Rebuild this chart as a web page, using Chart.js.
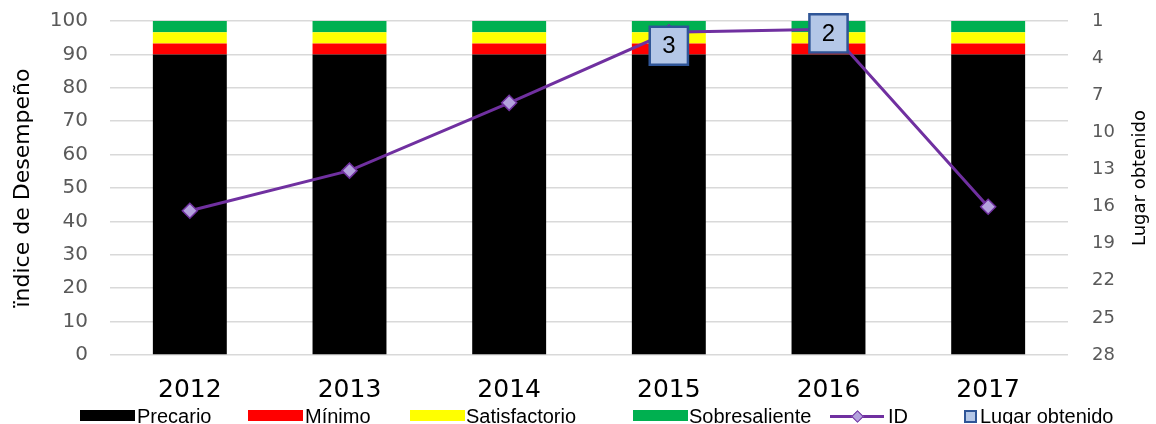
<!DOCTYPE html>
<html><head><meta charset="utf-8">
<script src="https://cdn.jsdelivr.net/npm/chart.js@4/dist/chart.umd.min.js"></script>
<style>
html,body{margin:0;padding:0;background:#fff;}
#wrap{position:relative;width:1156px;height:424px;overflow:hidden;}
canvas{position:absolute;left:0;top:0;}
.li{position:absolute;top:405px;height:22px;display:flex;align-items:center;font-family:"Liberation Sans Narrow","Liberation Sans";font-size:20px;color:#000;white-space:nowrap;}
</style></head><body>
<div id="wrap"><canvas id="c" width="1156" height="424"></canvas><div id="legend"></div></div>
<script>
// ---- data ----
const years = ['2012','2013','2014','2015','2016','2017'];
const precario      = [90, 90, 90, 90, 90, 90];
const minimo        = [3.3, 3.3, 3.3, 3.3, 3.3, 3.3];
const satisfactorio = [3.3, 3.3, 3.3, 3.3, 3.3, 3.3];
const sobresaliente = [3.4, 3.4, 3.4, 3.4, 3.4, 3.4];
const indiceDesempeno = [43.2, 55.2, 75.5, 96.6, 97.5, 44.4];
const lugarObtenido   = [null, null, null, 3, 2, null];
const leftAxis  = {min: 0, max: 100, step: 10};
const rightAxis = {min: 1, max: 28, step: 3};
const leftTitle = 'ïndice de Desempeño';
const rightTitle = 'Lugar obtenido';

const FONT = 'DejaVu Sans';

const overlay = {
  id: 'overlay',
  afterDatasetsDraw(chart) {
    const ctx = chart.ctx;
    const meta = chart.getDatasetMeta(5);
    ctx.save();
    ctx.fillStyle = '#000';
    ctx.font = '24px "Liberation Sans"';
    ctx.textAlign = 'center';
    ctx.textBaseline = 'middle';
    meta.data.forEach((pt, i) => {
      if (lugarObtenido[i] == null) return;
      ctx.fillText(String(lugarObtenido[i]), pt.x, pt.y + 1);
    });
    ctx.restore();
  },
  afterDraw(chart) {
    const ctx = chart.ctx;
    ctx.save();
    ctx.fillStyle = '#000';
    ctx.textAlign = 'center';
    ctx.textBaseline = 'middle';
    ctx.font = '22px "' + FONT + '"';
    ctx.translate(23, 188);
    ctx.rotate(-Math.PI / 2);
    ctx.fillText(leftTitle, 0, 0);
    ctx.restore();
    ctx.save();
    ctx.fillStyle = '#000';
    ctx.textAlign = 'center';
    ctx.textBaseline = 'middle';
    ctx.font = '18px "' + FONT + '"';
    ctx.translate(1140, 178);
    ctx.rotate(-Math.PI / 2);
    ctx.fillText(rightTitle, 0, 0);
    ctx.restore();
  }
};

const barCommon = {type: 'bar', stack: 'niveles', order: 3, barPercentage: 0.463, categoryPercentage: 1, borderWidth: 0, yAxisID: 'y'};

function noPad(s) { s.paddingTop = 0; s.paddingBottom = 0; s.paddingLeft = 0; s.paddingRight = 0; }

const chart = new Chart(document.getElementById('c'), {
  data: {
    labels: years,
    datasets: [
      Object.assign({label: 'Precario', data: precario, backgroundColor: '#000000'}, barCommon),
      Object.assign({label: 'Mínimo', data: minimo, backgroundColor: '#ff0000'}, barCommon),
      Object.assign({label: 'Satisfactorio', data: satisfactorio, backgroundColor: '#ffff00'}, barCommon),
      Object.assign({label: 'Sobresaliente', data: sobresaliente, backgroundColor: '#00b050'}, barCommon),
      {type: 'line', label: 'ID', data: indiceDesempeno, stack: 'id', order: 2, yAxisID: 'y',
       borderColor: '#7030a0', borderWidth: 3, pointStyle: 'rectRot', pointRadius: 7.5,
       pointBackgroundColor: '#b3a2dd', pointBorderColor: '#7030a0', pointBorderWidth: 1.5, tension: 0},
      {type: 'line', label: 'Lugar obtenido', data: lugarObtenido, order: 1, yAxisID: 'y2', showLine: false,
       pointStyle: 'rect', pointRadius: (c) => (lugarObtenido[c.dataIndex] == null ? 0 : 27),
       pointBackgroundColor: '#b4c7e7', pointBorderColor: '#2f5597', pointBorderWidth: 2.5, clip: false}
    ]
  },
  options: {
    responsive: false, animation: false, devicePixelRatio: 1,
    layout: {padding: {top: 21, left: 0, right: 0, bottom: 0}},
    plugins: {legend: {display: false}, tooltip: {enabled: false}},
    scales: {
      x: {stacked: true, grid: {display: false}, border: {display: false},
          ticks: {color: '#000', font: {family: FONT, size: 25}, padding: 12},
          afterFit(s) { s.height = 69; noPad(s); }},
      y: {stacked: true, position: 'left', min: leftAxis.min, max: leftAxis.max,
          ticks: {stepSize: leftAxis.step, color: '#595959', font: {family: FONT, size: 20}, padding: 22},
          grid: {color: '#d9d9d9', lineWidth: 1.5, drawTicks: false}, border: {display: false},
          afterFit(s) { s.width = 110; noPad(s); }},
      y2: {position: 'right', reverse: true, min: rightAxis.min, max: rightAxis.max,
          ticks: {stepSize: rightAxis.step, color: '#595959', font: {family: FONT, size: 18}, padding: 24},
          grid: {display: false, drawTicks: false}, border: {display: false},
          afterFit(s) { s.width = 88; noPad(s); }}
    }
  },
  plugins: [overlay]
});

// ---- legend ----
const legendPos = [[80, 137], [248, 305], [410, 466], [633, 689], [830, 888], [958, 980]];
const leg = document.getElementById('legend');
chart.data.datasets.forEach((ds, i) => {
  const [bx, tx] = legendPos[i];
  const sw = document.createElement('div');
  sw.style.position = 'absolute';
  if (ds.type === 'bar') {
    Object.assign(sw.style, {left: bx + 'px', top: '410px', width: '55px', height: '11px', background: ds.backgroundColor});
  } else if (ds.showLine === false) {
    Object.assign(sw.style, {left: (bx + 6) + 'px', top: '410px', width: '9px', height: '9px', background: ds.pointBackgroundColor, border: '2px solid ' + ds.pointBorderColor});
  } else {
    Object.assign(sw.style, {left: bx + 'px', top: '415px', width: '54px', height: '3px', background: ds.borderColor});
    const d = document.createElement('div');
    Object.assign(d.style, {position: 'absolute', left: (bx + 23) + 'px', top: '412px', width: '7px', height: '7px', background: ds.pointBackgroundColor, border: '1px solid ' + ds.pointBorderColor, transform: 'rotate(45deg)'});
    leg.appendChild(sw);
    leg.appendChild(d);
  }
  if (ds.type === 'bar' || ds.showLine === false) leg.appendChild(sw);
  const t = document.createElement('div');
  t.className = 'li'; t.style.left = tx + 'px'; t.textContent = ds.label;
  leg.appendChild(t);
});
</script>
</body></html>
